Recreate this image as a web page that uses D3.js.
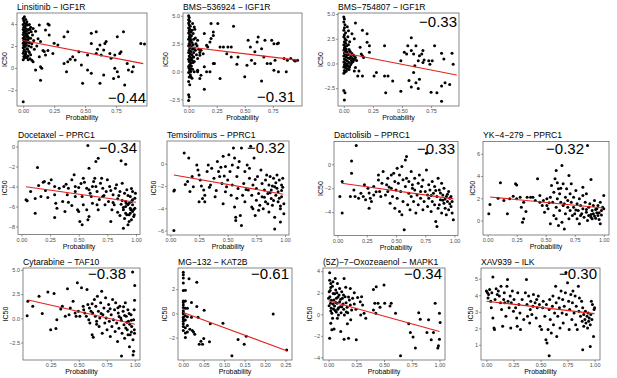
<!DOCTYPE html>
<html><head><meta charset="utf-8">
<script src="https://cdn.jsdelivr.net/npm/d3@7"></script>
<style>body{margin:0;background:#fff}svg text{font-family:"Liberation Sans",Arial,sans-serif}</style>
</head><body><svg id="c" width="617" height="378"></svg>
<script>
// ---------- DATA ----------
const titles = ["Linsitinib - IGF1R","BMS-536924 - IGF1R","BMS-754807 - IGF1R","Docetaxel - PPRC1","Temsirolimus - PPRC1","Dactolisib - PPRC1","YK-4-279 - PPRC1","Cytarabine - TAF10","MG-132 - KAT2B","(5Z)-7-Oxozeaenol - MAPK1","XAV939 - ILK"];
const corrLabels = ["-0.44","-0.31","-0.33","-0.34","-0.32","-0.33","-0.32","-0.38","-0.61","-0.34","-0.30"];

const linsitinib = [[0.0,4.5],[0.005,4.3],[0.01,4.1],[0.0,3.95],[0.015,3.8],[0.005,3.7],[0.02,3.6],[0.0,3.5],[0.01,3.4],[0.025,3.35],[0.005,3.25],[0.015,3.15],[0.0,3.05],[0.02,2.95],[0.01,2.85],[0.03,2.8],[0.0,2.7],[0.015,2.6],[0.005,2.5],[0.025,2.45],[0.01,2.35],[0.0,2.25],[0.02,2.15],[0.005,2.05],[0.015,1.95],[0.0,1.85],[0.03,1.75],[0.01,1.65],[0.005,1.55],[0.02,1.45],[0.0,1.35],[0.015,1.2],[0.005,1.05],[0.01,0.9],[0.0,0.75],[0.025,1.0],[0.035,3.9],[0.04,3.5],[0.045,3.2],[0.035,2.9],[0.04,2.6],[0.05,2.3],[0.045,2.0],[0.035,1.7],[0.05,1.4],[0.04,1.1],[0.055,0.85],[0.06,3.7],[0.065,3.3],[0.06,2.7],[0.07,2.2],[0.065,1.9],[0.075,3.0],[0.08,3.6],[0.085,2.5],[0.09,1.7],[0.1,3.35],[0.11,2.0],[0.12,2.65],[0.03,4.2],[0.02,4.4],[0.01,4.67],[0.025,4.0],[0.05,3.95],[0.055,3.5],[0.03,3.1],[0.045,2.75],[0.02,2.55],[0.035,2.35],[0.025,2.1],[0.045,1.5],[0.06,1.2],[0.02,1.25],[0.03,0.95],[0.07,0.7],[0.04,0.75],
[0.0,-3.06],[0.13,3.9],[0.2,4.0],[0.21,3.9],[0.14,2.4],[0.18,3.45],[0.21,3.0],[0.36,3.3],[0.33,2.85],[0.25,2.25],[0.28,2.1],[0.2,1.6],[0.16,1.6],[0.17,1.5],[0.24,1.33],[0.13,1.03],[0.18,1.18],[0.08,0.58],[0.1,-0.18],[0.14,0.12],[0.15,-0.03],[0.14,-1.1],[0.33,0.42],[0.36,0.58],[0.38,0.79],[0.4,1.03],[0.42,0.73],[0.35,-0.33],[0.45,1.48],[0.47,0.27],[0.48,-1.39],[0.52,1.18],[0.55,2.24],[0.52,-0.18],[0.55,-0.48],[0.55,3.15],[0.59,3.3],[0.59,1.33],[0.62,2.09],[0.6,1.7],[0.63,1.18],[0.65,1.64],[0.66,2.24],[0.67,2.4],[0.62,-1.39],[0.65,-0.64],[0.7,1.33],[0.71,0.88],[0.74,1.18],[0.76,2.85],[0.78,1.33],[0.74,-0.03],[0.73,-0.94],[0.77,-0.79],[0.76,-0.33],[0.81,3.3],[0.79,1.48],[0.82,-1.55],[0.84,0.42],[0.85,-0.18],[0.88,-0.33],[0.89,0.12],[0.95,2.24],[0.98,2.18]];

const bms536924 = [[0.0,5.0],[0.005,4.85],[0.0,4.65],[0.01,4.5],[0.0,4.35],[0.005,4.2],[0.015,4.05],[0.0,3.9],[0.01,3.8],[0.005,3.65],[0.02,3.55],[0.0,3.45],[0.01,3.3],[0.025,3.2],[0.005,3.1],[0.015,3.0],[0.0,2.9],[0.02,2.8],[0.01,2.7],[0.03,2.6],[0.005,2.5],[0.015,2.4],[0.0,2.3],[0.025,2.2],[0.01,2.1],[0.035,2.0],[0.005,1.9],[0.02,1.8],[0.0,1.7],[0.015,1.6],[0.03,1.5],[0.005,1.4],[0.01,1.3],[0.025,1.2],[0.0,1.1],[0.015,1.0],[0.005,0.9],[0.02,0.75],[0.01,0.6],[0.0,0.45],[0.005,0.3],[0.01,0.1],[0.0,-0.1],[0.015,-0.3],[0.005,-0.5],[0.0,-0.9],[0.01,-1.2],[0.0,-2.1],[0.005,-2.3],[0.0,-2.6],[0.04,3.4],[0.045,2.9],[0.04,2.4],[0.05,2.1],[0.045,1.7],[0.04,1.3],[0.05,0.9],[0.055,3.8],[0.06,3.0],[0.065,2.5],[0.06,1.9],[0.07,1.5],[0.075,2.3],[0.08,2.8],[0.09,2.0],[0.1,1.7],[0.035,4.3],[0.03,3.7],[0.025,0.5],[0.035,0.2],[0.04,0.8],[0.03,1.0],[0.045,1.3],[0.02,0.0],[0.03,-0.6],
[0.05,4.0],[0.14,3.4],[0.22,3.55],[0.2,4.3],[0.26,4.3],[0.4,4.05],[0.22,3.24],[0.2,2.95],[0.19,2.65],[0.17,2.2],[0.16,2.35],[0.11,1.9],[0.13,1.6],[0.1,1.46],[0.08,1.16],[0.22,0.71],[0.23,0.71],[0.28,2.2],[0.31,2.2],[0.35,2.2],[0.38,2.2],[0.34,1.6],[0.38,1.3],[0.44,1.3],[0.43,0.65],[0.14,0.42],[0.08,0.12],[0.02,0.27],[0.05,-0.03],[0.08,-0.03],[0.11,-0.33],[0.16,-0.03],[0.19,-0.03],[0.1,-0.63],[0.02,-0.48],[0.28,-0.63],[0.14,-1.6],[0.5,-0.48],[0.65,-0.86],[0.53,2.8],[0.55,2.2],[0.59,1.76],[0.56,1.0],[0.61,2.65],[0.62,3.1],[0.65,2.05],[0.67,1.3],[0.68,2.8],[0.7,0.71],[0.73,0.71],[0.74,2.8],[0.76,2.5],[0.79,2.5],[0.8,2.56],[0.77,1.01],[0.76,0.12],[0.8,-0.03],[0.87,-0.03],[0.85,1.16],[0.88,1.01],[0.91,1.16],[0.94,1.01],[0.95,0.95],[0.97,1.01],[0.59,0.71],[0.52,0.56]];

const bms754807 = [[0.0,4.7],[0.005,4.5],[0.0,4.2],[0.01,3.9],[0.005,3.6],[0.0,3.35],[0.015,3.1],[0.005,2.9],[0.0,2.7],[0.01,2.5],[0.02,2.35],[0.005,2.2],[0.015,2.05],[0.0,1.9],[0.025,1.8],[0.01,1.7],[0.005,1.55],[0.02,1.45],[0.0,1.35],[0.015,1.25],[0.03,1.15],[0.005,1.05],[0.01,0.95],[0.025,0.85],[0.0,0.75],[0.02,0.65],[0.035,0.55],[0.005,0.45],[0.015,0.35],[0.03,0.25],[0.0,0.15],[0.01,0.05],[0.025,-0.05],[0.005,-0.15],[0.02,-0.25],[0.0,-0.35],[0.015,-0.45],[0.03,-0.55],[0.005,-0.7],[0.01,-0.85],[0.0,-1.0],[0.04,1.9],[0.045,1.4],[0.04,0.9],[0.05,0.5],[0.045,0.1],[0.04,-0.3],[0.055,1.2],[0.06,0.7],[0.065,0.3],[0.06,-0.1],[0.07,1.0],[0.075,0.5],[0.08,0.2],[0.085,0.8],[0.09,0.4],[0.1,0.6],[0.11,0.3],[0.035,2.7],[0.04,3.3],[0.05,2.2],[0.03,3.7],[0.045,-0.6],[0.02,-0.8],[0.035,-0.2],[0.05,-0.35],[0.0,-2.73],[0.01,-2.97],[0.005,-3.7],
[0.1,4.1],[0.16,3.35],[0.2,3.0],[0.2,2.15],[0.22,1.8],[0.07,3.0],[0.09,2.5],[0.14,1.64],[0.15,0.96],[0.16,0.78],[0.17,0.61],[0.22,1.13],[0.07,0.1],[0.1,-0.41],[0.13,-0.75],[0.12,-1.26],[0.16,-1.26],[0.09,-0.75],[0.28,-0.92],[0.26,-1.26],[0.35,-1.26],[0.38,-1.26],[0.42,-1.77],[0.36,-2.97],[0.49,-2.8],[0.35,1.8],[0.49,0.27],[0.52,1.13],[0.54,0.96],[0.55,1.8],[0.58,2.59],[0.58,1.3],[0.6,0.96],[0.62,1.8],[0.64,0.27],[0.65,0.78],[0.67,0.96],[0.68,1.3],[0.68,0.1],[0.69,0.34],[0.61,-0.24],[0.6,-0.92],[0.56,-1.71],[0.58,-2.39],[0.62,-1.95],[0.64,-2.53],[0.65,-1.6],[0.73,0.27],[0.74,-0.07],[0.78,1.8],[0.76,0.27],[0.75,-2.9],[0.8,-2.97],[0.84,1.02],[0.86,0.44],[0.84,-2.29],[0.84,-3.82],[0.87,-1.95],[0.91,-2.12],[0.93,1.02],[0.94,-0.07]];

const docetaxel = [[0.58,0.1],[0.14,-2.1],[0.67,-1.17],[0.65,-1.5],[0.59,-2.17],[0.87,-1.43],[0.91,-1.77],[0.04,-5.33],[0.05,-5.43],[0.12,-6.67],[0.17,-5.0],[0.19,-3.57],[0.2,-3.5],[0.24,-3.67],[0.26,-3.33],[0.29,-4.0],[0.29,-4.83],[0.23,-5.1],[0.33,-4.17],[0.3,-5.67],[0.31,-6.17],[0.29,-7.1],[0.37,-4.0],[0.39,-3.77],[0.41,-4.17],[0.4,-4.83],[0.41,-5.57],[0.46,-2.83],[0.44,-3.33],[0.47,-4.0],[0.47,-4.5],[0.49,-6.33],[0.5,-6.5],[0.47,-5.0],[0.53,-5.0],[0.51,-7.5],[0.53,-7.83],[0.54,-5.83],[0.57,-6.33],[0.58,-7.33],[0.59,-7.0],[0.54,-3.17],[0.55,-3.57],[0.57,-4.17],[0.59,-4.33],[0.6,-4.67],[0.61,-5.0],[0.62,-5.67],[0.63,-3.5],[0.64,-3.17],[0.65,-4.0],[0.66,-4.5],[0.66,-5.83],[0.67,-6.33],[0.69,-3.67],[0.7,-3.17],[0.71,-4.17],[0.71,-5.0],[0.73,-5.83],[0.74,-4.5],[0.75,-3.33],[0.76,-5.5],[0.77,-4.0],[0.78,-7.5],[0.79,-6.33],[0.8,-4.83],[0.81,-5.83],[0.82,-4.17],[0.83,-3.83],[0.84,-6.57],[0.84,-5.23],[0.86,-4.5],[0.87,-5.77],[0.88,-3.67],[0.89,-8.17],[0.89,-6.1],[0.9,-4.67],[0.91,-6.67],[0.91,-5.5],[0.92,-4.33],[0.93,-7.83],[0.93,-5.83],[0.94,-6.83],[0.95,-5.0],[0.95,-6.17],[0.96,-5.5],[0.96,-7.33],[0.97,-4.5],[0.97,-6.5],[0.97,-5.83],[0.98,-7.0],[0.99,-5.17],[0.99,-6.17],[0.995,-4.67],[0.91,-6.0],[0.94,-5.67],[0.955,-6.33],[0.97,-5.33],[0.95,-6.67],[0.92,-6.83],[0.915,-5.67],[0.985,-6.83],[0.94,-7.5],[0.89,-6.33],[0.08,-4.5],[0.12,-5.2],[0.36,-5.5],[0.38,-6.5],[0.15,-3.9],[0.21,-4.4],[0.44,-5.9],[0.5,-4.1],[0.52,-3.7],[0.62,-4.0],[0.68,-5.3],[0.72,-4.9],[0.78,-4.4],[0.8,-5.6],[0.85,-4.9],[0.86,-6.9],[0.88,-5.4],[0.9,-7.2],[0.93,-4.9],[0.98,-6.3],[0.96,-4.2]];

const temsirolimus = [[0.03,-2.45],[0.035,-2.36],[0.03,-6.0],[0.12,0.97],[0.13,-1.85],[0.15,-1.6],[0.16,0.52],[0.19,-1.15],[0.17,-2.5],[0.2,-2.06],[0.23,-0.1],[0.24,-0.55],[0.25,-1.0],[0.26,-1.45],[0.25,-3.42],[0.28,-3.12],[0.29,-2.36],[0.3,-2.82],[0.3,-3.42],[0.32,-0.7],[0.33,-0.1],[0.35,-1.9],[0.36,-0.4],[0.38,-1.3],[0.39,-2.97],[0.41,0.2],[0.42,-0.7],[0.43,-1.15],[0.45,-1.76],[0.46,-3.58],[0.46,0.67],[0.48,-0.24],[0.48,-2.52],[0.49,-2.06],[0.5,-1.45],[0.51,0.82],[0.52,-0.7],[0.53,-2.82],[0.54,-0.1],[0.54,-1.9],[0.55,1.42],[0.56,0.52],[0.56,-3.88],[0.57,-4.8],[0.57,-5.1],[0.58,-1.15],[0.59,-0.33],[0.59,-2.21],[0.6,0.2],[0.61,-4.64],[0.62,-5.55],[0.62,1.42],[0.63,-2.82],[0.64,-1.76],[0.65,-0.7],[0.65,-3.42],[0.67,-0.1],[0.68,-2.36],[0.69,-1.3],[0.7,1.58],[0.71,-3.88],[0.71,-2.82],[0.72,-1.9],[0.72,-4.03],[0.73,0.52],[0.74,-4.64],[0.75,-3.27],[0.75,-2.21],[0.76,-1.15],[0.77,-4.18],[0.77,-2.67],[0.78,-3.73],[0.79,-0.55],[0.8,-1.76],[0.8,-2.97],[0.81,-4.03],[0.82,-2.36],[0.83,-1.45],[0.83,-3.42],[0.84,-1.0],[0.85,-2.67],[0.86,-4.33],[0.86,-1.9],[0.87,-1.15],[0.88,-3.12],[0.88,-2.36],[0.89,-3.73],[0.9,-1.3],[0.91,-4.8],[0.91,-2.06],[0.92,-2.82],[0.93,-1.0],[0.94,-3.42],[0.94,-2.52],[0.95,-1.45],[0.96,-4.03],[0.96,-5.24],[0.97,-1.9],[0.97,-2.97],[0.98,-1.3],[0.99,-4.48],[0.99,-3.58],[0.91,-5.85],[0.93,-2.2],[0.95,-3.1],[0.97,-2.4],[0.9,-3.3],[0.85,-3.6],[0.82,-3.0],[0.96,-3.8],[0.98,-2.1],[0.87,-2.6],[0.92,-1.7],[0.89,-2.0],[0.44,-0.3],[0.47,-1.1],[0.4,-2.4],[0.34,-2.1],[0.27,-2.0],[0.58,-3.1],[0.66,-2.3],[0.69,-0.4],[0.74,-1.4]];

const dactolisib = [[0.02,-2.69],[0.04,-4.08],[0.04,-1.44],[0.11,-2.69],[0.12,0.28],[0.12,-0.75],[0.14,-2.14],[0.16,1.56],[0.15,-2.69],[0.18,-2.83],[0.2,-2.42],[0.22,-2.69],[0.23,-1.72],[0.24,-2.97],[0.26,-2.0],[0.27,-3.67],[0.28,-2.83],[0.29,-3.11],[0.31,-1.86],[0.31,-2.56],[0.35,-1.31],[0.35,-0.89],[0.36,-2.28],[0.38,-1.58],[0.39,-0.61],[0.41,-2.56],[0.42,-1.72],[0.43,-1.17],[0.43,-2.28],[0.45,-3.25],[0.46,-0.89],[0.46,-2.0],[0.47,-2.69],[0.48,-0.75],[0.49,-1.44],[0.49,-3.67],[0.5,-2.14],[0.51,-0.33],[0.51,-2.83],[0.52,-1.58],[0.53,-0.89],[0.53,-3.94],[0.54,-2.28],[0.55,-0.19],[0.55,-4.22],[0.56,-3.11],[0.57,-5.47],[0.58,-1.86],[0.58,0.36],[0.59,0.64],[0.59,-1.17],[0.6,-3.39],[0.61,-2.42],[0.61,-1.44],[0.62,-3.81],[0.63,-0.61],[0.63,-2.69],[0.64,-1.72],[0.65,-3.11],[0.66,-1.17],[0.66,-2.14],[0.67,-4.08],[0.68,-2.56],[0.69,-1.58],[0.69,-3.39],[0.7,-0.89],[0.71,-2.28],[0.71,-2.83],[0.72,-1.86],[0.73,-3.81],[0.73,-1.31],[0.74,-3.11],[0.75,-2.28],[0.76,-0.47],[0.76,0.92],[0.77,-2.56],[0.77,-3.53],[0.78,-1.72],[0.78,-2.83],[0.79,-2.14],[0.8,-3.94],[0.81,-1.44],[0.81,-3.11],[0.82,-2.42],[0.83,-3.39],[0.83,-1.86],[0.84,-4.78],[0.85,-5.19],[0.85,-2.69],[0.86,-1.17],[0.86,-3.67],[0.87,-2.14],[0.88,-2.97],[0.89,-1.58],[0.89,-4.08],[0.9,-2.56],[0.91,-3.25],[0.91,-2.0],[0.92,-3.67],[0.93,-2.69],[0.93,-4.22],[0.94,-3.11],[0.95,-2.28],[0.95,-3.81],[0.96,-2.83],[0.97,-3.53],[0.98,-4.08],[0.98,-3.11],[0.99,-4.64],[0.87,-3.39],[0.92,-2.9],[0.94,-2.5],[0.96,-3.3],[0.9,-3.0],[0.88,-2.4],[0.97,-2.7],[0.84,-2.2],[0.8,-2.6],[0.64,-2.0],[0.56,-1.3],[0.44,-1.9],[0.37,-2.7],[0.33,-2.3],[0.27,-2.4]];

const yk4279 = [[0.01,0.6],[0.02,1.44],[0.09,2.0],[0.11,3.39],[0.14,1.8],[0.17,0.6],[0.19,1.95],[0.22,2.19],[0.24,3.3],[0.25,3.2],[0.25,1.95],[0.28,2.1],[0.29,1.2],[0.3,-0.15],[0.31,0.15],[0.31,1.65],[0.33,0.81],[0.34,2.1],[0.37,2.1],[0.39,2.1],[0.41,1.8],[0.43,3.75],[0.45,1.65],[0.45,2.25],[0.47,1.35],[0.48,1.8],[0.49,0.75],[0.51,1.95],[0.51,1.35],[0.52,1.05],[0.54,2.1],[0.54,-0.3],[0.55,3.15],[0.56,1.65],[0.57,0.45],[0.57,2.55],[0.58,3.75],[0.59,1.2],[0.59,4.5],[0.59,0.15],[0.6,1.95],[0.61,2.85],[0.61,-0.45],[0.62,0.9],[0.62,2.4],[0.63,1.65],[0.64,4.95],[0.64,-0.15],[0.65,3.3],[0.65,1.35],[0.66,-0.75],[0.67,2.1],[0.67,0.6],[0.68,2.85],[0.69,1.2],[0.69,1.8],[0.7,4.05],[0.7,0.15],[0.71,2.4],[0.71,0.9],[0.72,3.3],[0.72,1.65],[0.73,0.45],[0.74,2.1],[0.74,1.2],[0.75,0.6],[0.76,2.7],[0.77,1.5],[0.77,0.15],[0.78,0.9],[0.79,1.95],[0.79,-0.3],[0.8,1.35],[0.81,0.6],[0.82,2.25],[0.82,1.05],[0.83,0.3],[0.84,1.65],[0.85,0.75],[0.85,2.4],[0.86,0.0],[0.87,1.2],[0.87,0.45],[0.88,1.5],[0.89,3.69],[0.89,0.3],[0.9,0.9],[0.9,0.15],[0.91,1.35],[0.91,0.6],[0.92,1.8],[0.93,0.21],[0.94,1.05],[0.94,0.69],[0.95,0.45],[0.95,1.35],[0.96,0.09],[0.97,1.65],[0.97,-0.3],[0.98,0.9],[0.99,1.2],[1.0,1.05],[1.0,2.25],[0.82,3.0],[0.86,6.75],[0.92,0.4],[0.96,0.7],[0.93,1.0],[0.98,0.5],[0.89,0.55],[0.85,1.0],[0.8,0.45],[0.76,0.95],[0.66,1.5],[0.63,2.9],[0.6,3.4],[0.53,1.6]];

const cytarabine = [[0.04,0.28],[0.046,1.77],[0.09,1.25],[0.146,2.29],[0.175,0.49],[0.225,2.71],[0.25,-1.18],[0.28,2.57],[0.297,-1.04],[0.305,-0.14],[0.34,0.97],[0.354,1.25],[0.38,0.21],[0.4,3.06],[0.414,0.38],[0.425,1.08],[0.45,1.77],[0.468,0.56],[0.477,0.21],[0.488,3.68],[0.497,0.73],[0.51,0.21],[0.525,3.16],[0.54,1.25],[0.545,0.9],[0.554,0.56],[0.568,0.21],[0.574,2.99],[0.582,1.42],[0.59,-0.14],[0.596,1.08],[0.6,-0.49],[0.61,0.73],[0.62,-1.7],[0.625,0.56],[0.63,-1.94],[0.64,1.94],[0.648,0.21],[0.653,1.25],[0.66,-0.31],[0.667,2.29],[0.676,0.73],[0.682,-0.83],[0.688,0.03],[0.696,1.6],[0.705,2.81],[0.71,-1.53],[0.716,0.38],[0.725,1.08],[0.733,-0.49],[0.74,2.12],[0.745,0.03],[0.753,-1.18],[0.762,0.73],[0.767,1.42],[0.773,-0.31],[0.782,-1.88],[0.79,0.38],[0.796,-0.83],[0.802,1.94],[0.81,-0.14],[0.82,0.9],[0.825,-1.35],[0.83,1.6],[0.839,-0.49],[0.847,-2.4],[0.853,0.56],[0.859,-1.01],[0.867,1.25],[0.876,0.03],[0.882,-3.89],[0.887,-1.53],[0.896,0.73],[0.904,-0.66],[0.91,-2.05],[0.916,1.6],[0.924,0.21],[0.933,-1.18],[0.939,0.9],[0.944,-0.31],[0.953,-2.92],[0.959,-1.7],[0.967,0.38],[0.973,-0.83],[0.981,4.79],[0.984,-2.22],[0.99,-0.14],[0.996,-1.18],[0.995,0.9],[0.998,-1.53],[1.0,3.4],[0.998,1.88],[0.985,-3.78],[0.99,-3.4],[0.97,-0.2],[0.955,-0.6],[0.93,-0.4],[0.91,0.3],[0.95,0.5],[0.88,-0.2],[0.86,0.2],[0.97,-1.4],[0.94,-1.7],[0.92,-1.0],[0.85,1.1],[0.9,1.2],[0.78,1.0],[0.7,0.5],[0.66,-0.6],[0.62,1.5]];

const mg132 = [[0.0,3.4],[0.0,3.19],[0.0,2.92],[0.0,2.51],[0.0,1.89],[0.0,1.03],[0.0,0.89],[0.0,0.7],[0.0,0.49],[0.0,0.22],[0.0,-0.05],[0.0,-0.32],[0.0,-0.65],[0.0,-0.86],[0.0,-1.08],[0.0,-1.41],[0.0,-0.46],[0.0,0.08],[0.005,1.92],[0.005,1.03],[0.005,0.43],[0.005,-0.19],[0.005,-1.19],[0.005,-0.54],[0.005,-2.0],[0.005,-1.62],[0.01,-0.27],[0.01,-1.0],[0.01,-1.54],[0.01,0.43],[0.014,2.86],[0.02,0.89],[0.02,-0.32],[0.016,-1.32],[0.022,-1.41],[0.025,-1.54],[0.028,-1.73],[0.033,2.57],[0.033,0.57],[0.036,-0.32],[0.039,-2.54],[0.043,-2.3],[0.047,-2.54],[0.05,-2.08],[0.051,0.27],[0.064,-2.35],[0.066,-0.86],[0.097,-0.81],[0.119,-3.49],[0.134,-2.16],[0.149,-2.54],[0.154,-1.89],[0.22,-0.05],[0.253,-3.03]];

const oxozeaenol = [[0.01,3.85],[0.01,3.17],[0.02,2.86],[0.02,2.49],[0.04,3.02],[0.06,3.32],[0.08,2.86],[0.14,3.32],[0.01,-2.22],[0.02,-0.83],[0.03,-1.45],[0.05,-1.38],[0.08,-0.37],[0.11,-1.6],[0.14,-2.31],[0.18,-2.22],[0.25,-2.37],[0.17,-0.89],[0.2,-0.52],[0.006,2.09],[0.012,1.63],[0.018,1.02],[0.024,0.55],[0.03,0.09],[0.036,-0.37],[0.042,1.94],[0.048,1.32],[0.054,0.77],[0.06,0.34],[0.065,2.25],[0.071,1.48],[0.077,1.02],[0.083,0.46],[0.089,-0.06],[0.095,1.78],[0.1,1.17],[0.107,0.71],[0.113,0.15],[0.119,2.09],[0.125,1.48],[0.131,0.95],[0.137,0.46],[0.143,-0.06],[0.149,1.63],[0.158,1.08],[0.167,0.65],[0.173,0.15],[0.188,1.32],[0.196,0.86],[0.208,0.4],[0.217,1.48],[0.232,0.95],[0.247,0.46],[0.262,1.57],[0.286,1.17],[0.298,1.63],[0.307,0.86],[0.29,-0.06],[0.32,0.09],[0.336,-0.37],[0.232,2.0],[0.196,2.4],[0.0,1.5],[0.005,0.8],[0.015,2.2],[0.025,1.3],[0.035,2.6],[0.045,0.5],[0.055,1.9],[0.065,1.1],[0.075,2.0],[0.085,1.6],[0.09,0.6],[0.1,2.4],[0.11,1.4],[0.12,0.7],[0.135,1.8],[0.155,2.5],[0.16,0.2],[0.18,1.6],[0.04,0.95],[0.07,0.2],[0.02,0.3],[0.405,2.31],[0.43,2.55],[0.5,2.71],[0.417,1.02],[0.446,1.02],[0.506,1.02],[0.464,0.65],[0.405,0.4],[0.426,0.09],[0.554,0.77],[0.565,1.02],[0.604,0.09],[0.723,-0.89],[0.738,-1.69],[0.762,-2.12],[0.783,-3.14],[0.649,-3.85],[0.813,0.15],[0.827,-0.46],[0.902,-0.52],[0.946,-1.69],[0.961,1.02],[0.985,-3.14],[0.991,-2.92],[1.0,-2.31],[1.0,0.09],[1.006,-0.77],[0.926,-2.37],[0.887,-1.69]];

const xav939 = [[0.0,4.25],[0.01,4.15],[0.015,3.84],[0.02,4.05],[0.03,4.35],[0.04,3.64],[0.045,3.24],[0.05,4.15],[0.06,5.1],[0.06,2.63],[0.07,2.02],[0.075,1.92],[0.08,3.74],[0.09,4.39],[0.1,4.05],[0.11,4.25],[0.12,3.95],[0.13,3.54],[0.135,4.55],[0.14,3.13],[0.15,2.12],[0.16,3.74],[0.165,4.15],[0.17,3.54],[0.18,2.73],[0.19,4.55],[0.195,4.96],[0.2,3.64],[0.21,3.24],[0.22,3.95],[0.225,2.02],[0.23,3.54],[0.24,4.25],[0.25,3.03],[0.255,3.74],[0.27,3.24],[0.28,2.63],[0.285,2.12],[0.29,4.15],[0.3,3.44],[0.31,2.93],[0.315,1.92],[0.33,3.74],[0.345,2.53],[0.36,4.15],[0.37,4.96],[0.375,3.44],[0.38,2.73],[0.39,3.95],[0.4,2.32],[0.405,3.13],[0.41,3.64],[0.42,2.83],[0.43,3.34],[0.435,4.05],[0.45,3.54],[0.46,2.63],[0.465,3.74],[0.47,3.24],[0.48,3.95],[0.49,3.44],[0.495,2.12],[0.51,1.92],[0.52,3.24],[0.525,3.64],[0.54,2.73],[0.55,1.31],[0.555,3.44],[0.56,1.11],[0.57,1.92],[0.58,3.13],[0.58,0.33],[0.585,3.74],[0.59,2.53],[0.6,1.71],[0.61,3.34],[0.615,3.95],[0.62,2.22],[0.63,2.93],[0.64,4.55],[0.645,3.54],[0.65,1.51],[0.66,2.73],[0.67,3.84],[0.675,3.24],[0.68,2.02],[0.69,4.25],[0.7,2.93],[0.705,3.74],[0.71,2.32],[0.72,3.34],[0.73,4.15],[0.735,5.37],[0.74,2.83],[0.75,4.76],[0.76,3.64],[0.765,1.92],[0.77,3.13],[0.78,4.05],[0.79,2.53],[0.795,3.54],[0.8,4.25],[0.81,2.93],[0.82,3.95],[0.825,2.22],[0.83,3.34],[0.84,1.92],[0.85,4.55],[0.855,3.03],[0.86,3.84],[0.87,2.73],[0.88,3.64],[0.885,2.42],[0.89,3.24],[0.89,0.7],[0.9,2.83],[0.9,2.12],[0.91,2.53],[0.915,3.03],[0.92,2.32],[0.93,2.73],[0.935,2.02],[0.94,2.93],[0.945,2.42],[0.95,2.63],[0.96,2.22],[0.96,0.9],[0.965,2.83],[0.97,3.64],[0.975,2.53],[0.98,3.44],[0.99,1.51],[0.995,3.13],[1.0,3.24]];

// regression line end points [x0,x1],[y0,y1]
const fitX = [[0,0.97],[0,0.97],[0,0.97],[0.04,1.0],[0.03,0.985],[0.035,0.99],[0.02,0.995],[0.05,1.0],[0,0.253],[0,1.0],[0,1.0]];
const fitY = [[2.5,0.4],[2.2,1.02],[1.06,-1.16],[-4.03,-5.57],[-1.0,-2.73],[-1.58,-2.89],[2.12,1.12],[1.9,-0.6],[0.08,-3.08],[1.26,-1.6],[3.64,2.89]];

const xDomains = [[-0.05,1.0],[-0.05,1.01],[-0.05,0.99],[-0.03,1.035],[-0.03,1.035],[-0.03,1.03],[-0.04,1.045],[0.003,1.047],[-0.013,0.266],[-0.05,1.05],[-0.05,1.05]];
const yDomains = [[-3.45,5.0],[-3.1,5.25],[-4.3,5.1],[-8.8,0.55],[-6.4,2.05],[-5.95,1.9],[-1.3,7.1],[-4.3,5.2],[-3.85,3.75],[-4.25,4.3],[0.08,5.65]];
const xTicks = [[0,0.25,0.5,0.75],[0,0.25,0.5,0.75],[0,0.25,0.5,0.75],[0,0.25,0.5,0.75,1],[0,0.25,0.5,0.75,1],[0,0.25,0.5,0.75,1],[0,0.25,0.5,0.75,1],[0.25,0.5,0.75,1],[0,0.05,0.1,0.15,0.2,0.25],[0,0.25,0.5,0.75,1],[0,0.25,0.5,0.75,1]];
const yTicks = [[-2,0,2,4],[-2.5,0,2.5,5],[-2.5,0,2.5,5],[-8,-6,-4,-2,0],[-6,-4,-2,0],[-4,-2,0],[0,2,4,6],[-2.5,0,2.5,5],[-2,0,2],[-4,-2,0,2,4],[1,2,3,4,5]];
const yFormats = ["d",".1f",".1f","d","d","d","d",".1f","d","d","d"];

// ---------- LAYOUT ----------
const boxes = [[17,147,13,106],[183,302,13,106],[338,459,13,106],[18,140,141,234.5],[167,289,141,235],[334,458,141.5,235.5],[483,609,141.5,235],[23,140,268,360],[178,292,268,360],[323,445,268,360],[481,600,268,360]];
// correlation label: [dx from right, dy from top (positive) or from bottom (negative)]
const corrPos = [[-1,-3],[-7,-4],[-2,14],[-3,12],[-4,12],[-3,12],[-25,12],[-14,11],[-3,11],[-3,11],[-3,11]];
const datasets = [linsitinib,bms536924,bms754807,docetaxel,temsirolimus,dactolisib,yk4279,cytarabine,mg132,oxozeaenol,xav939];

const svg = d3.select("#c");
const mn = s => String(s).replace(/-/g,"\u2212");

datasets.forEach((data,i)=>{
  const [l,r,t,b] = boxes[i];
  const x = d3.scaleLinear().domain(xDomains[i]).range([l,r]);
  const y = d3.scaleLinear().domain(yDomains[i]).range([b,t]);
  const g = svg.append("g");

  const xa = g.append("g").attr("transform",`translate(0,${b})`)
    .call(d3.axisBottom(x).tickValues(xTicks[i]).tickSize(2).tickPadding(1.5).tickFormat(d=>mn(d3.format(".2f")(d))));
  const ya = g.append("g").attr("transform",`translate(${l},0)`)
    .call(d3.axisLeft(y).tickValues(yTicks[i]).tickSize(2).tickPadding(1).tickFormat(d=>mn(d3.format(yFormats[i])(d))));
  [xa,ya].forEach(a=>{
    a.select(".domain").remove();
    a.selectAll("line").attr("stroke","#333").attr("stroke-width",0.5);
    a.selectAll("text").attr("fill","#4d4d4d").style("font-size","5.5px").style("font-family","'Liberation Sans',Arial,sans-serif");
  });
  let maxW = 0;
  ya.selectAll("text").each(function(){ maxW = Math.max(maxW, this.getComputedTextLength()); });

  g.append("g").selectAll("circle").data(data).join("circle")
    .attr("cx",d=>x(d[0])).attr("cy",d=>y(d[1])).attr("r",1.5).attr("fill","#000");

  g.append("line")
    .attr("x1",x(fitX[i][0])).attr("x2",x(fitX[i][1]))
    .attr("y1",y(fitY[i][0])).attr("y2",y(fitY[i][1]))
    .attr("stroke","#e3211c").attr("stroke-width",1.1);

  g.append("rect").attr("x",l).attr("y",t).attr("width",r-l).attr("height",b-t)
    .attr("fill","none").attr("stroke","#555").attr("stroke-width",0.7);

  g.append("text").attr("x",l).attr("y",t-3.5).text(mn(titles[i]))
    .style("font-size","8.6px").attr("fill","#000");
  g.append("text").attr("x",(l+r)/2).attr("y",b+14).attr("text-anchor","middle")
    .text("Probability").style("font-size","7px").attr("fill","#000");
  g.append("text").attr("transform",`translate(${Math.max(7, l-3-maxW-1.5)},${(t+b)/2}) rotate(-90)`)
    .attr("text-anchor","middle").text("IC50").style("font-size","7px").attr("fill","#000");

  const cp = corrPos[i];
  g.append("text").attr("x",r+cp[0]).attr("y",cp[1]>0 ? t+cp[1] : b+cp[1])
    .attr("text-anchor","end").text(mn(corrLabels[i]))
    .style("font-size","15px").attr("fill","#000");
});
</script></body></html>
